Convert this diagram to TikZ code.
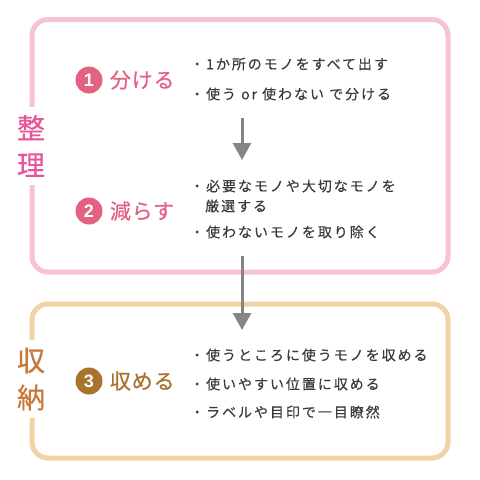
\documentclass[tikz,border=0pt]{standalone}
\usepackage{fontspec}
\setmainfont{Noto Sans CJK JP}
\newfontfamily\jpfont[LetterSpace=14, FakeBold=0.25]{Noto Sans CJK JP}
\newfontfamily\titlefont[LetterSpace=4, FakeBold=0.5]{Noto Sans CJK JP}
\newfontfamily\numfont{Liberation Sans}
\usetikzlibrary{arrows.meta}
\usetikzlibrary{positioning}

\definecolor{pinkLine}{HTML}{F7C1D8}
\definecolor{pinkLabel}{HTML}{E8559A}
\definecolor{pinkNum}{HTML}{E36282}
\definecolor{orangeLine}{HTML}{F2D2A5}
\definecolor{orangeLabel}{HTML}{C8793A}
\definecolor{brownNum}{HTML}{A9722F}
\definecolor{arrowGray}{HTML}{858585}
\definecolor{textGray}{HTML}{3A3A3A}

\begin{document}
\begin{tikzpicture}[x=1pt, y=-1pt, font=\jpfont]
	\tikzstyle{groupStyle}=[line width=5pt, rounded corners=16pt, minimum width=416pt, inner sep=0pt]
	\tikzstyle{labelStyle}=[fill=white, font=\titlefont\fontsize{28}{37}\selectfont, align=center, inner xsep=3pt, inner ysep=8pt]
	\tikzstyle{numStyle}=[shape=circle, minimum size=27pt, inner sep=0pt, text=white, font=\numfont\bfseries\fontsize{18}{18}\selectfont]
	\tikzstyle{titleStyle}=[inner sep=0pt, font=\titlefont\fontsize{21}{21}\selectfont]
	\tikzstyle{itemStyle}=[anchor=west, inner sep=0pt, text=textGray, font=\jpfont\fontsize{14}{14}\selectfont]
	\tikzstyle{arrowStyle}=[draw=arrowGray, line width=3pt, -{Triangle[width=18pt, length=17pt]}]
	\useasboundingbox (0,0) rectangle (480,480);
	% group boxes
	\node[groupStyle, draw=pinkLine, minimum height=252.5pt] (seiriBox) at (240,145.75) {};
	\node[groupStyle, draw=orangeLine, minimum height=154pt] (shunouBox) at (240,381) {};
	\node[labelStyle, text=pinkLabel] (seiri) at (31,146) {整\\理};
	\node[labelStyle, text=orangeLabel] (shunou) at (31,379) {収\\納};
	% steps
	\node[numStyle, fill=pinkNum] (num1) at (89,80) {1};
	\node[titleStyle, text=pinkNum, right=7pt of num1] (step1) {分ける};
	\node[numStyle, fill=pinkNum] (num2) at (89,211) {2};
	\node[titleStyle, text=pinkNum, right=7pt of num2] (step2) {減らす};
	\node[numStyle, fill=brownNum] (num3) at (89,381) {3};
	\node[titleStyle, text=brownNum, right=7pt of num3] (step3) {収める};
	% items
	\node[itemStyle] (item1a) at (190,64) {・1か所のモノをすべて出す};
	\node[itemStyle] (item1b) at (190,94) {・使う or 使わない で分ける};
	\node[itemStyle] (item2a) at (190,186) {・必要なモノや大切なモノを};
	\node[itemStyle] (item2b) at (205,206) {厳選する};
	\node[itemStyle] (item2c) at (190,232) {・使わないモノを取り除く};
	\node[itemStyle] (item3a) at (190,355) {・使うところに使うモノを収める};
	\node[itemStyle] (item3b) at (190,384) {・使いやすい位置に収める};
	\node[itemStyle] (item3c) at (190,412) {・ラベルや目印で一目瞭然};
	% arrows
	\coordinate (a1s) at (242,118);
	\coordinate (a1e) at (242,160);
	\coordinate (a2s) at (242,256);
	\coordinate (a2e) at (242,330);
	\draw[arrowStyle] (a1s) -- (a1e);
	\draw[arrowStyle] (a2s) -- (a2e);
\end{tikzpicture}
\end{document}
